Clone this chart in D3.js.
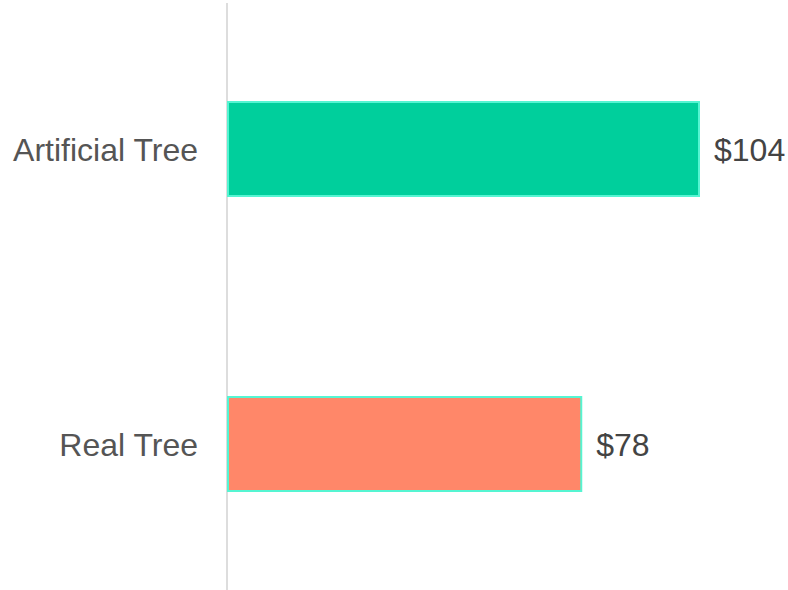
<!DOCTYPE html>
<html><head><meta charset="utf-8">
<script src="https://cdn.jsdelivr.net/npm/d3@7"></script>
<style>body{margin:0;background:#fff}</style>
</head><body>
<svg id="chart" width="788" height="590"></svg>
<script>
const categories = ["Artificial Tree", "Real Tree"];
const values = [104, 78];
const valueLabels = ["$104", "$78"];
const colors = ["#00cf9c", "#ff8769"];

const svg = d3.select("#chart");
const x0 = 228;
const x = d3.scaleLinear().domain([0, 104]).range([x0, 699]);
const y = d3.scaleBand().domain(categories).range([3, 590]).paddingInner(0.6814).paddingOuter(0.3356);

svg.append("line").attr("x1", x0 - 1).attr("x2", x0 - 1).attr("y1", 3).attr("y2", 590)
  .attr("stroke", "#dddddd").attr("stroke-width", 2);

svg.selectAll("rect.bar").data(categories).join("rect").attr("class", "bar")
  .attr("x", x(0)).attr("y", d => y(d))
  .attr("width", (d, i) => x(values[i]) - x(0)).attr("height", y.bandwidth())
  .attr("fill", (d, i) => colors[i]).attr("stroke", "#55f5d2").attr("stroke-width", 2);

svg.selectAll("text.cat").data(categories).join("text").attr("class", "cat")
  .attr("x", 198).attr("y", d => y(d) + y.bandwidth() / 2).attr("dy", "0.365em")
  .attr("text-anchor", "end").attr("font-family", "Liberation Sans, Arial, sans-serif")
  .attr("font-size", 32).attr("fill", "#555555").text(d => d);

svg.selectAll("text.val").data(categories).join("text").attr("class", "val")
  .attr("x", (d, i) => x(values[i]) + 15).attr("y", d => y(d) + y.bandwidth() / 2).attr("dy", "0.365em")
  .attr("text-anchor", "start").attr("font-family", "Liberation Sans, Arial, sans-serif")
  .attr("font-size", 32).attr("fill", "#444444").text((d, i) => valueLabels[i]);
</script>
</body></html>
